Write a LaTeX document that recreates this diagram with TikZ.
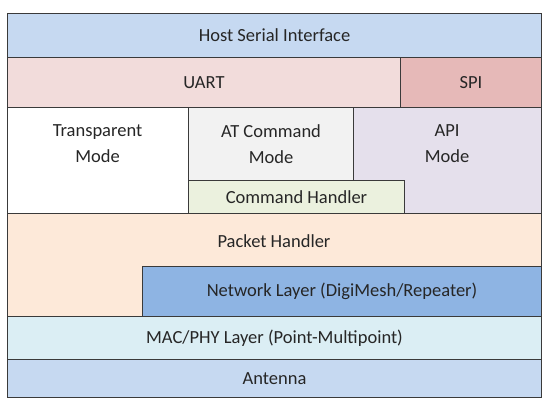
\documentclass[tikz,border=0pt]{standalone}
\usepackage{fontspec}
\setmainfont{Carlito}
\usepackage{tikz}
\usetikzlibrary{positioning}

\definecolor{hostblue}{HTML}{C6D9F1}
\definecolor{uartpink}{HTML}{F2DCDB}
\definecolor{spired}{HTML}{E6B9B8}
\definecolor{atgray}{HTML}{F2F2F2}
\definecolor{apililac}{HTML}{E5E0EC}
\definecolor{cmdgreen}{HTML}{EBF1DE}
\definecolor{pktpeach}{HTML}{FDE9D9}
\definecolor{netblue}{HTML}{8EB4E3}
\definecolor{macaqua}{HTML}{DBEEF4}
\definecolor{antblue}{HTML}{C6D9F1}
\definecolor{edgegray}{HTML}{3A3A3A}
\definecolor{inkgray}{HTML}{262626}

\tikzset{
  layer/.style={draw=edgegray, line width=1pt, inner sep=0pt, anchor=north west,
    align=center, text=inkgray, font=\fontsize{18.5}{26}\selectfont},
  lbl/.style={inner sep=0pt, align=center, text=inkgray, font=\fontsize{18.5}{26}\selectfont}
}

\begin{document}
\begin{tikzpicture}[x=1pt,y=-1pt]
\useasboundingbox (0,0) rectangle (545,402);
% top of the stack
\node[layer,fill=hostblue,minimum width=534pt,minimum height=44pt] at (7,13) (host){Host Serial Interface};
\node[layer,fill=uartpink,minimum width=393pt,minimum height=50pt] at (7,57) (uart){UART};
\node[layer,fill=spired,minimum width=141pt,minimum height=50pt] at (400,57) (spi){SPI};
% modes
\node[layer,fill=white,minimum width=181pt,minimum height=106pt] at (7,107) (transp){};
\node[layer,fill=atgray,minimum width=165pt,minimum height=73pt] at (188,107) (atcmd){AT Command\\Mode};
\node[layer,fill=apililac,minimum width=188pt,minimum height=106pt] at (353,107) (api){};
\node[layer,fill=cmdgreen,minimum width=216pt,minimum height=33pt] at (188,180) (cmdh){Command Handler};
\node[lbl] at (97.5,143.5) (transptext){Transparent\\Mode};
\node[lbl] at (447,143.5) (apitext){API\\Mode};
% packet and network
\node[layer,fill=pktpeach,minimum width=534pt,minimum height=103pt] at (7,213) (packet){};
\node[lbl] at (274,241) (packettext){Packet Handler};
\node[layer,fill=netblue,minimum width=399pt,minimum height=50pt] at (142,266) (net){Network Layer (DigiMesh/Repeater)};
% bottom of the stack
\node[layer,fill=macaqua,minimum width=534pt,minimum height=43pt] at (7,316) (mac){MAC/PHY Layer (Point-Multipoint)};
\node[layer,fill=antblue,minimum width=534pt,minimum height=38pt] at (7,359) (ant){Antenna};
\end{tikzpicture}
\end{document}
